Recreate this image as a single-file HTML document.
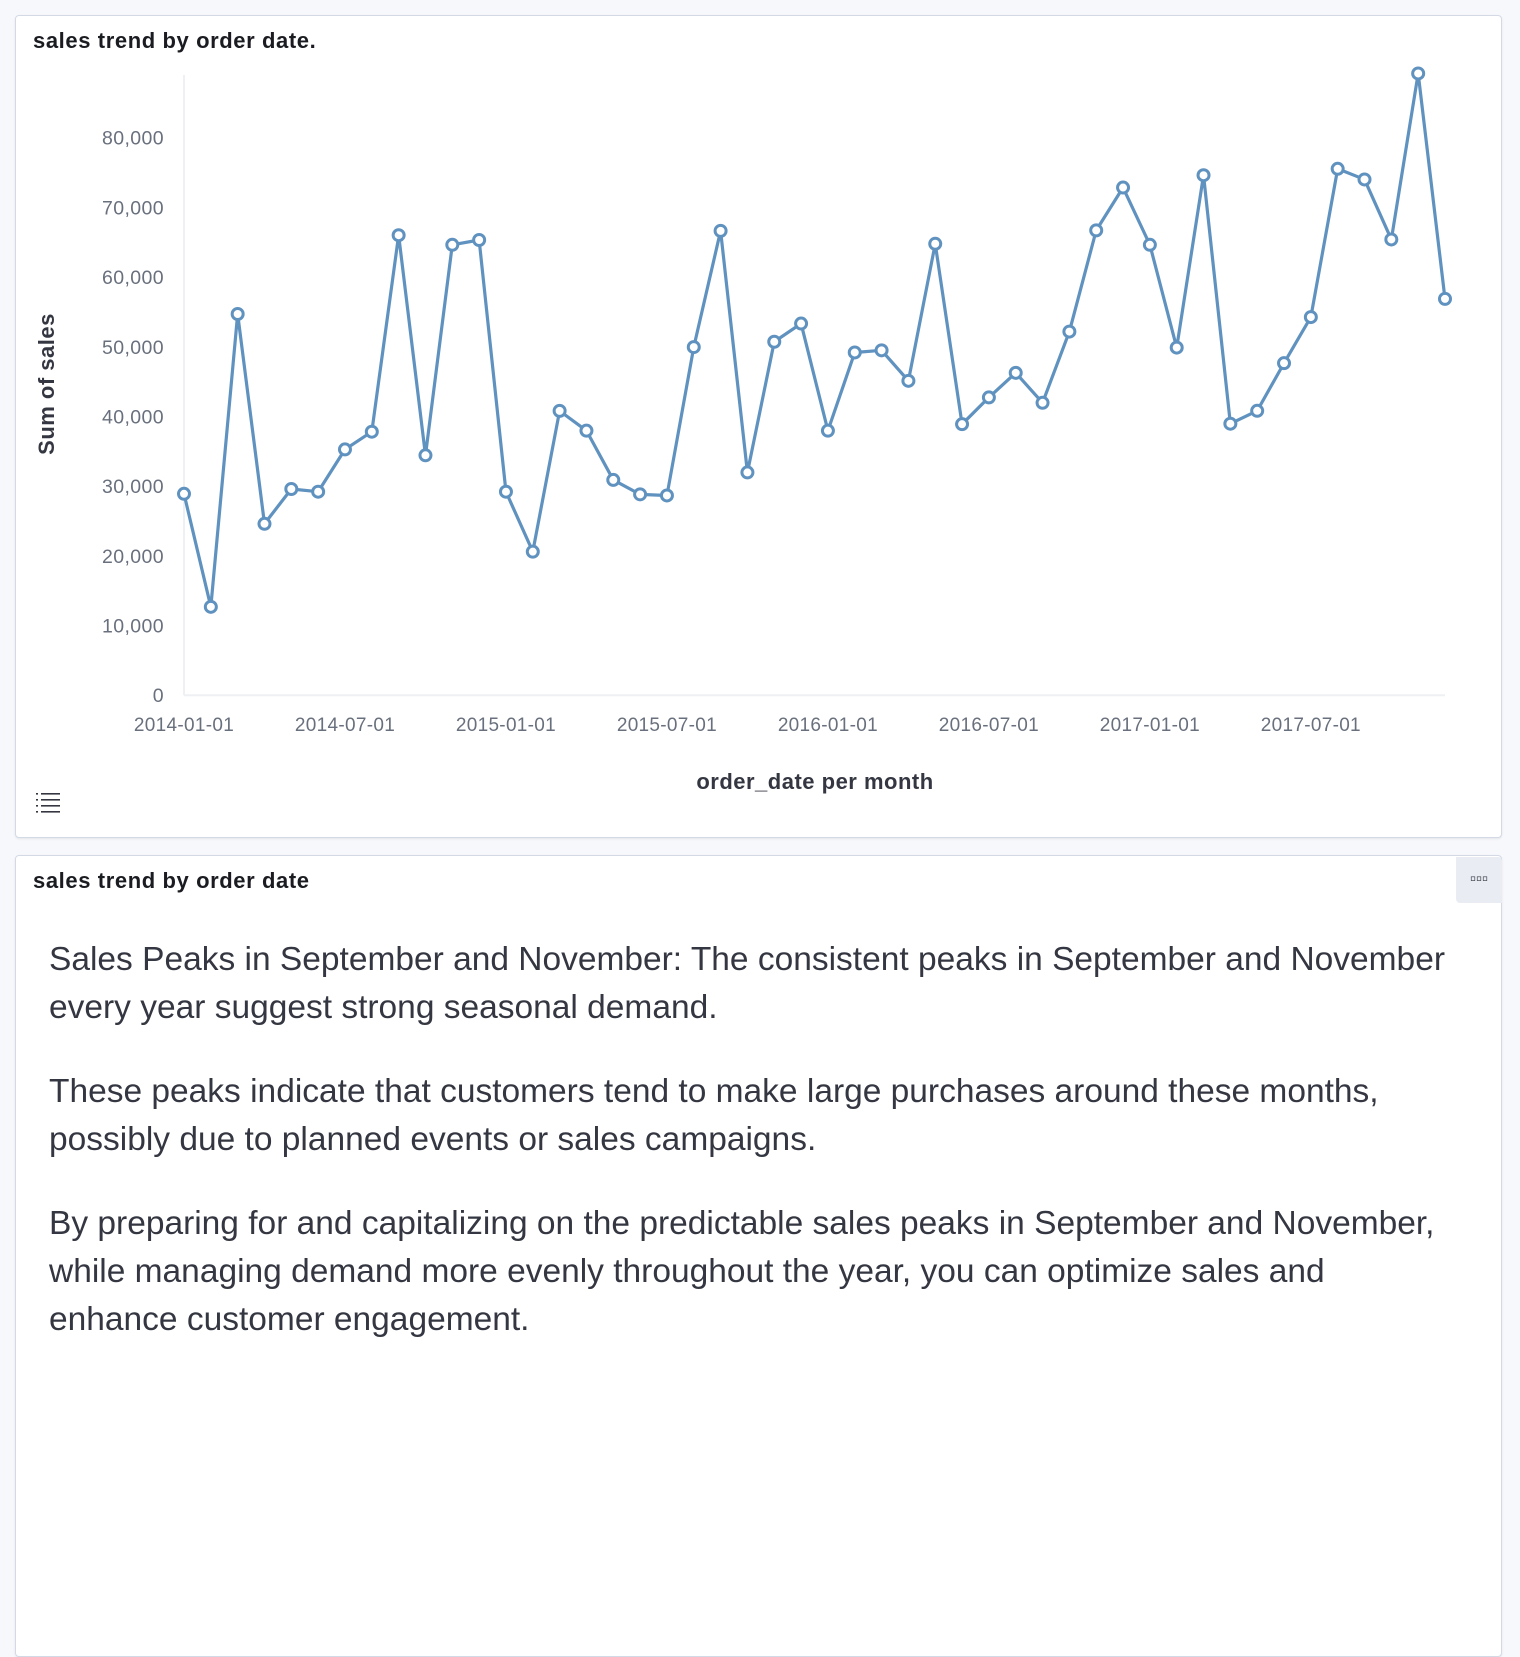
<!DOCTYPE html>
<html><head><meta charset="utf-8"><style>
body{margin:0;width:1520px;height:1646px;background:#f7f8fc;font-family:"Liberation Sans",sans-serif;position:relative;overflow:hidden}
.panel{position:absolute;background:#fff;border:1px solid #d3dae6;border-radius:4px;box-shadow:0 1px 2px rgba(0,0,0,.08)}
.ptitle{position:absolute;left:17px;font-weight:bold;font-size:22px;letter-spacing:0.6px;color:#1a1c21}
.txt{position:absolute;left:33px;top:80px;width:1408px;font-size:33.5px;line-height:48px;color:#343741}
.txt p{margin:0 0 36px 0}
</style></head><body>
<div class="panel" style="left:15px;top:15px;width:1485px;height:821px">
  <div class="ptitle" style="top:12px">sales trend by order date.</div>
</div>
<svg id="chart" width="1520" height="840" style="position:absolute;left:0;top:0"></svg>
<div class="panel" style="left:15px;top:855px;width:1485px;height:800px">
  <div class="ptitle" style="top:12px">sales trend by order date</div>
  <div style="position:absolute;right:-1px;top:1px;width:46px;height:46px;background:#e9edf3;border-radius:0 4px 0 4px;text-align:center;line-height:44px;font-size:17px;font-weight:bold;color:#343741;letter-spacing:0px">&#9643;&#9643;&#9643;</div>
  <div class="txt">
    <p>Sales Peaks in September and November: The consistent peaks in September and November every year suggest strong seasonal demand.</p>
    <p>These peaks indicate that customers tend to make large purchases around these months, possibly due to planned events or sales campaigns.</p>
    <p>By preparing for and capitalizing on the predictable sales peaks in September and November, while managing demand more evenly throughout the year, you can optimize sales and enhance customer engagement.</p>
  </div>
</div>
<script>
const months = [];
for (let y = 2014; y <= 2017; y++) for (let m = 1; m <= 12; m++) months.push(y + '-' + String(m).padStart(2, '0'));
const sales = [28900,12680,54700,24600,29590,29200,35270,37810,66010,34430,64630,65320,
29200,20600,40800,37960,30890,28820,28660,49950,66630,31970,50720,53330,
37960,49180,49490,45110,64780,38890,42730,46260,41960,52180,66700,72850,
64630,49880,74620,38960,40810,47650,54260,75540,74010,65400,89220,56870];
const yTicks = [0,10000,20000,30000,40000,50000,60000,70000,80000];
const xTickLabels = ['2014-01-01','2014-07-01','2015-01-01','2015-07-01','2016-01-01','2016-07-01','2017-01-01','2017-07-01'];
const xTickIdx = [0,6,12,18,24,30,36,42];

const NS = 'http://www.w3.org/2000/svg';
const svg = document.getElementById('chart');
const x0 = 184, x1 = 1445, y0 = 695.2, y80 = 137.7;
const xs = i => x0 + (x1 - x0) * i / (sales.length - 1);
const ys = v => y0 - (y0 - y80) * v / 80000;
function mk(tag, attrs) { const e = document.createElementNS(NS, tag); for (const k in attrs) e.setAttribute(k, attrs[k]); svg.appendChild(e); return e; }

let e = mk('line', {x1: x0, y1: 75, x2: x0, y2: y0, stroke: '#eef0f3', 'stroke-width': 2});


e = mk('line', {x1: x0, y1: y0, x2: x1, y2: y0, stroke: '#eef0f3', 'stroke-width': 2});



yTicks.forEach(v => {
  const t = mk('text', {x: 164, y: ys(v) + 7, 'text-anchor': 'end', 'font-size': 19.5, 'letter-spacing': 0.4, fill: '#69707d', 'font-family': 'Liberation Sans, sans-serif'});
  t.textContent = v.toLocaleString('en-US');
  
  
});
xTickIdx.forEach((idx, k) => {
  const t = mk('text', {x: xs(idx), y: 731, 'text-anchor': 'middle', 'font-size': 19, 'letter-spacing': 0.3, fill: '#69707d', 'font-family': 'Liberation Sans, sans-serif'});
  t.textContent = xTickLabels[k];
  
  
});
let t = mk('text', {x: 0, y: 0, transform: 'translate(54,384) rotate(-90)', 'text-anchor': 'middle', 'font-size': 22, 'letter-spacing': 0.5, 'font-weight': 'bold', fill: '#343741', 'font-family': 'Liberation Sans, sans-serif'});
t.textContent = 'Sum of sales';


t = mk('text', {x: 815, y: 789, 'text-anchor': 'middle', 'font-size': 22, 'letter-spacing': 0.5, 'font-weight': 'bold', fill: '#343741', 'font-family': 'Liberation Sans, sans-serif'});
t.textContent = 'order_date per month';



const pl = mk('polyline', {points: sales.map((v, i) => xs(i) + ',' + ys(v)).join(' '), fill: 'none', stroke: '#6092c0', 'stroke-width': 3.2, 'stroke-linejoin': 'round'});


sales.forEach((v, i) => {
  const c = mk('circle', {cx: xs(i), cy: ys(v), r: 5.5, fill: '#fff', stroke: '#6092c0', 'stroke-width': 3});
  
  
});
const g = document.createElementNS(NS, 'g');


svg.appendChild(g);
[794, 800, 806, 812].forEach(y => {
  const a = document.createElementNS(NS, 'rect'); a.setAttribute('x', 36); a.setAttribute('y', y - 1); a.setAttribute('width', 2); a.setAttribute('height', 1.6); a.setAttribute('fill', '#343741'); g.appendChild(a);
  const b = document.createElementNS(NS, 'rect'); b.setAttribute('x', 41); b.setAttribute('y', y - 1); b.setAttribute('width', 19); b.setAttribute('height', 1.6); b.setAttribute('fill', '#343741'); g.appendChild(b);
});
</script>
</body></html>
